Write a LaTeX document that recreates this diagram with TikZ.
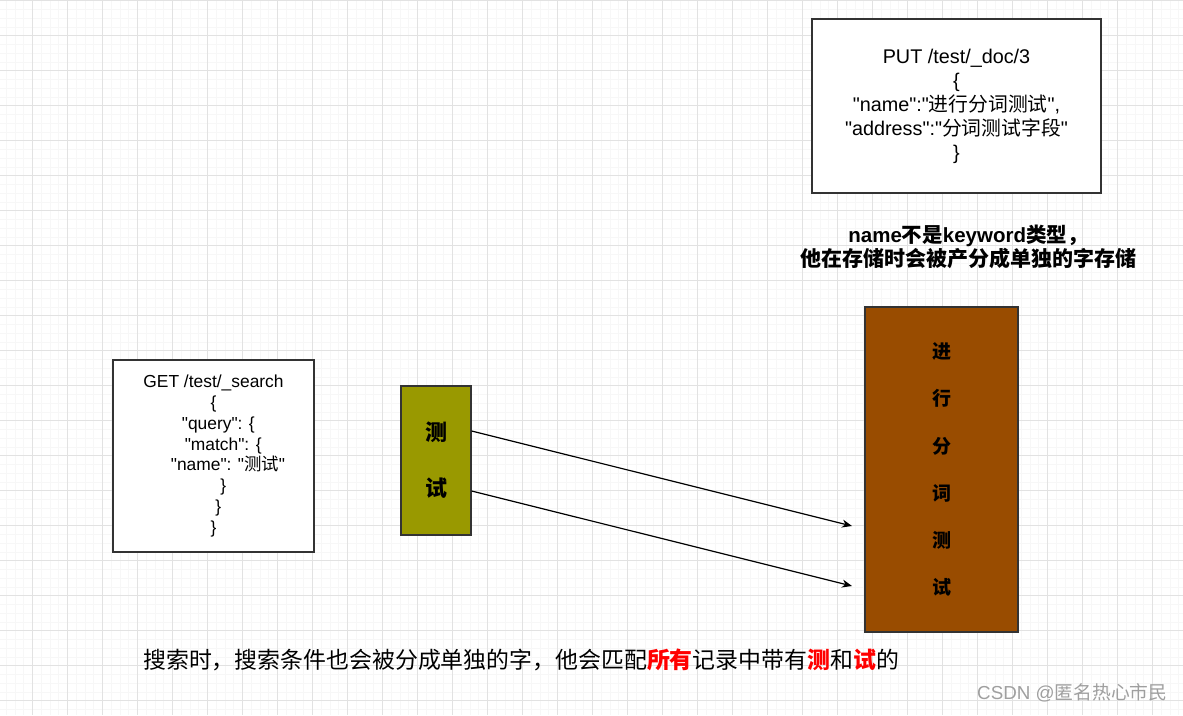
\documentclass[tikz,border=0pt]{standalone}
\usepackage{fontspec}
\setmainfont{Liberation Sans}[Ligatures=TeXOff]
\newfontfamily\cjk{Noto Sans CJK SC}
\usetikzlibrary{arrows.meta}
\definecolor{gridminor}{HTML}{F7F7F7}
\definecolor{gridmajor}{HTML}{E2E2E2}
\definecolor{oliveFill}{HTML}{999900}
\definecolor{brownFill}{HTML}{994C00}
\definecolor{boxline}{HTML}{333333}
\newcommand{\ind}[1]{\hspace*{#1\fontdimen2\font}}
\tikzset{
  minorline/.style={draw=gridminor, line width=0.6pt},
  majorline/.style={draw=gridmajor, line width=1pt},
  codebox/.style={draw=boxline, line width=1.3pt, fill=white, align=center, inner sep=0pt},
  charbox/.style={draw=boxline, line width=1.3pt, align=center, inner sep=0pt},
  arr/.style={draw=black, line width=1.2pt, -{Stealth[length=10pt,width=8pt]}},
}
\begin{document}
\begin{tikzpicture}[x=1pt,y=-1pt]
\useasboundingbox (0,0) rectangle (1183,715);
\fill[white] (0,0) rectangle (1183,715);
% grid
\foreach \i in {0,...,140} {
  \pgfmathsetmacro\xx{32.3+8.75*(\i-4)}
  \draw[minorline] (\xx,0) -- (\xx,715);
}
\foreach \i in {0,...,90} {
  \pgfmathsetmacro\yy{0.7+8.75*(\i-1)}
  \draw[minorline] (0,\yy) -- (1183,\yy);
}
\foreach \i in {0,...,35} {
  \pgfmathsetmacro\xx{32.3+35*(\i-1)}
  \draw[majorline] (\xx,0) -- (\xx,715);
}
\foreach \i in {0,...,21} {
  \pgfmathsetmacro\yy{0.7+35*\i}
  \draw[majorline] (0,\yy) -- (1183,\yy);
}

% PUT box
\node[codebox, minimum width=289pt, minimum height=174pt,
      font=\fontsize{19.8}{24}\selectfont] (put) at (956.5,106)
  {PUT /test/\_doc/3\\ \{\\ "name":"{\cjk 进行分词测试}",\\ "address":"{\cjk 分词测试字段}"\\ \}};

% remark
\node[align=center, inner sep=0pt, font=\fontsize{20.5}{24}\selectfont\bfseries] (remark) at (968,247)
  {name{\cjk 不是}keyword{\cjk 类型，}\\ {\cjk\fontsize{21}{24}\selectfont 他在存储时会被产分成单独的字存储}};

% GET box
\node[codebox, minimum width=201pt, minimum height=192pt,
      font=\fontsize{17.4}{20.8}\selectfont] (get) at (213.5,456)
  {GET /test/\_search\\ \{\\ \ind{2}"query": \{\\ \ind{4}"match": \{\\ \ind{6}"name": "{\cjk 测试}"\\ \ind{4}\}\\ \ind{2}\}\\ \}};

% olive box
\node[charbox, fill=oliveFill, minimum width=70pt, minimum height=149pt,
      font=\cjk\bfseries\fontsize{22}{56}\selectfont] (olive) at (436,460.5)
  {测\\试};

% brown box
\node[charbox, fill=brownFill, minimum width=153pt, minimum height=325pt,
      font=\cjk\bfseries\fontsize{19}{47.2}\selectfont] (brown) at (941.5,469.5)
  {进\\行\\分\\词\\测\\试};

% arrows
\coordinate (t1) at (852,526);
\coordinate (t2) at (852,586);
\draw[arr] ([yshift=29.5pt]olive.east) -- (t1);
\draw[arr] ([yshift=-30.5pt]olive.east) -- (t2);

% bottom note
\node[anchor=west, inner sep=0pt, font=\cjk\fontsize{22.9}{26}\selectfont] (note) at (143,660)
  {搜索时，搜索条件也会被分成单独的字，他会匹配{\bfseries\color{red}所有}记录中带有{\bfseries\color{red}测}和{\bfseries\color{red}试}的};

% watermark
\node[anchor=west, inner sep=0pt, text=gray!75, font=\fontsize{18.8}{22}\selectfont] (wm) at (977,693)
  {CSDN @{\cjk 匿名热心市民}};
\end{tikzpicture}
\end{document}
